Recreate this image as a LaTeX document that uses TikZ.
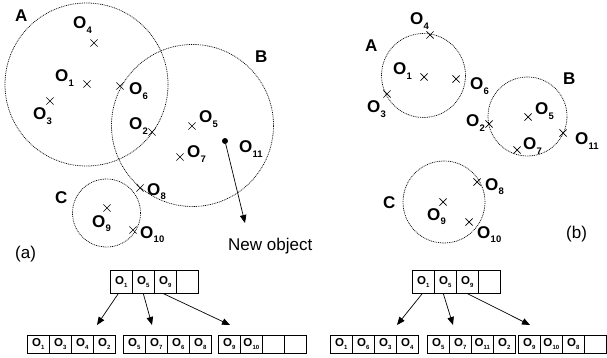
\documentclass[tikz,border=0pt]{standalone}
\usepackage{fontspec}
\setmainfont{Liberation Sans}
\usetikzlibrary{shapes.misc,arrows.meta}
\newcommand\Ob[1]{O\kern0.3pt\raisebox{-0.28em}{\fontsize{9.5}{9.5}\selectfont\bfseries #1}}
\newcommand\Oc[1]{O\kern0.2pt\raisebox{-0.25em}{\fontsize{6}{6}\selectfont\bfseries #1}}
\begin{document}
\begin{tikzpicture}[x=1pt,y=-1pt,
  circ/.style={draw, circle, inner sep=0pt, line width=0.7pt, dash pattern=on 0.9pt off 0.9pt},
  xmark/.style={draw, cross out, minimum size=6.5pt, inner sep=0pt, line width=0.7pt},
  lab/.style={anchor=base west, inner sep=0pt, font=\fontsize{17}{17}\selectfont\bfseries},
  cell/.style={draw, line width=0.6pt, anchor=north west, minimum width=22pt, minimum height=18pt, inner sep=0pt, font=\fontsize{11.5}{11.5}\selectfont\bfseries},
  topcell/.style={cell, minimum height=23pt},
  arr/.style={line width=0.7pt, -{Triangle[length=8pt,width=6.5pt]}}]
\useasboundingbox (0,0) rectangle (607,358);
% ---------------- (a) ----------------
\node[circ, minimum size=163pt] (cA) at (86.5,84.5) {};
\node[circ, minimum size=162pt] (cB) at (192.5,125.5) {};
\node[circ, minimum size=68pt] (cC) at (106.5,213) {};
\node[lab] (lA) at (15,22) {A};
\node[lab] (lB) at (255,63) {B};
\node[lab] (lC) at (55,203) {C};
\node[xmark] (x4) at (94,43) {};
\node[xmark] (x1) at (87,84) {};
\node[xmark] (x3) at (50,101) {};
\node[xmark] (x6) at (120,86) {};
\node[xmark] (x2) at (152,132) {};
\node[xmark] (x5) at (192,126) {};
\node[xmark] (x7) at (180,157) {};
\node[xmark] (x8) at (140,188) {};
\node[xmark] (x9) at (107,208) {};
\node[xmark] (x10) at (133,230) {};
\node[circle, fill, inner sep=0pt, minimum size=6pt] (x11) at (225,141) {};
\node[lab] (o4) at (73,29) {\Ob{4}};
\node[lab] (o1) at (55,82) {\Ob{1}};
\node[lab] (o3) at (33,120) {\Ob{3}};
\node[lab] (o6) at (129,95) {\Ob{6}};
\node[lab] (o2) at (129,130) {\Ob{2}};
\node[lab] (o5) at (199,123) {\Ob{5}};
\node[lab] (o7) at (187,158) {\Ob{7}};
\node[lab] (o11) at (239,153) {\Ob{11}};
\node[lab] (o8) at (147,195) {\Ob{8}};
\node[lab] (o9) at (92,227) {\Ob{9}};
\node[lab] (o10) at (140,238) {\Ob{10}};
\coordinate (newend) at (245,223);
\draw[arr] (x11) -- (newend);
\node[anchor=base west, inner sep=0pt, font=\fontsize{17}{17}\selectfont] (newobj) at (228,250) {New object};
\node[anchor=base west, inner sep=0pt, font=\fontsize{17}{17}\selectfont] (la) at (15,258) {(a)};
% ---------------- (b) ----------------
\node[circ, minimum size=84pt] (dA) at (423.5,75.5) {};
\node[circ, minimum size=79pt] (dB) at (527.5,116.5) {};
\node[circ, minimum size=82pt] (dC) at (444,202) {};
\node[lab] (mA) at (365,52) {A};
\node[lab] (mB) at (563,85) {B};
\node[lab] (mC) at (383,208) {C};
\node[xmark] (y4) at (430,35) {};
\node[xmark] (y1) at (424,77) {};
\node[xmark] (y6) at (456,79) {};
\node[xmark] (y3) at (387,94) {};
\node[xmark] (y2) at (489,124) {};
\node[xmark] (y5) at (528,117) {};
\node[xmark] (y7) at (517,150) {};
\node[xmark] (y11) at (563,133) {};
\node[xmark] (y8) at (477,182) {};
\node[xmark] (y9) at (443,202) {};
\node[xmark] (y10) at (469,222) {};
\node[lab] (p4) at (410,25) {\Ob{4}};
\node[lab] (p1) at (393,75) {\Ob{1}};
\node[lab] (p6) at (470,90) {\Ob{6}};
\node[lab] (p3) at (367,113) {\Ob{3}};
\node[lab] (p2) at (466,127) {\Ob{2}};
\node[lab] (p5) at (535,115) {\Ob{5}};
\node[lab] (p7) at (523,150) {\Ob{7}};
\node[lab] (p11) at (575,145) {\Ob{11}};
\node[lab] (p8) at (485,190) {\Ob{8}};
\node[lab] (p9) at (427,220) {\Ob{9}};
\node[lab] (p10) at (477,238) {\Ob{10}};
\node[anchor=base west, inner sep=0pt, font=\fontsize{17}{17}\selectfont] (lb) at (566,238) {(b)};
% ---------------- tables (a) ----------------
\node[topcell] (ta1) at (110,270) {\Oc{1}};
\node[topcell] (ta2) at (132,270) {\Oc{5}};
\node[topcell] (ta3) at (154,270) {\Oc{9}};
\node[topcell] (ta4) at (176,270) {};
\node[cell] (a11) at (27,335) {\Oc{1}};
\node[cell] (a12) at (49,335) {\Oc{3}};
\node[cell] (a13) at (71,335) {\Oc{4}};
\node[cell] (a14) at (93,335) {\Oc{2}};
\node[cell] (a21) at (123,335) {\Oc{5}};
\node[cell] (a22) at (145,335) {\Oc{7}};
\node[cell] (a23) at (167,335) {\Oc{6}};
\node[cell] (a24) at (189,335) {\Oc{8}};
\node[cell] (a31) at (218,335) {\Oc{9}};
\node[cell] (a32) at (240,335) {\Oc{10}};
\node[cell] (a33) at (262,335) {};
\node[cell] (a34) at (284,335) {};
\draw[arr] ([xshift=-3pt]ta1.south) -- ([xshift=4pt,yshift=10pt]a14.north west);
\draw[arr] (ta2.south) -- ([xshift=7pt,yshift=10pt]a22.north west);
\draw[arr] ([xshift=-2pt]ta3.south) -- ([xshift=12pt,yshift=10pt]a31.north west);
% ---------------- tables (b) ----------------
\node[topcell] (tb1) at (412,270) {\Oc{1}};
\node[topcell] (tb2) at (434,270) {\Oc{5}};
\node[topcell] (tb3) at (456,270) {\Oc{9}};
\node[topcell] (tb4) at (478,270) {};
\node[cell] (b11) at (330,335) {\Oc{1}};
\node[cell] (b12) at (352,335) {\Oc{6}};
\node[cell] (b13) at (374,335) {\Oc{3}};
\node[cell] (b14) at (396,335) {\Oc{4}};
\node[cell] (b21) at (427,335) {\Oc{5}};
\node[cell] (b22) at (449,335) {\Oc{7}};
\node[cell] (b23) at (471,335) {\Oc{11}};
\node[cell] (b24) at (493,335) {\Oc{2}};
\node[cell] (b31) at (518,335) {\Oc{9}};
\node[cell] (b32) at (540,335) {\Oc{10}};
\node[cell] (b33) at (562,335) {\Oc{8}};
\node[cell] (b34) at (584,335) {};
\draw[arr] ([xshift=-1pt]tb1.south) -- ([xshift=1pt,yshift=10pt]b14.north west);
\draw[arr] ([xshift=-2pt]tb2.south) -- ([xshift=4pt,yshift=10pt]b22.north west);
\draw[arr] (tb3.south) -- ([xshift=12pt,yshift=10pt]b31.north west);
\end{tikzpicture}
\end{document}
